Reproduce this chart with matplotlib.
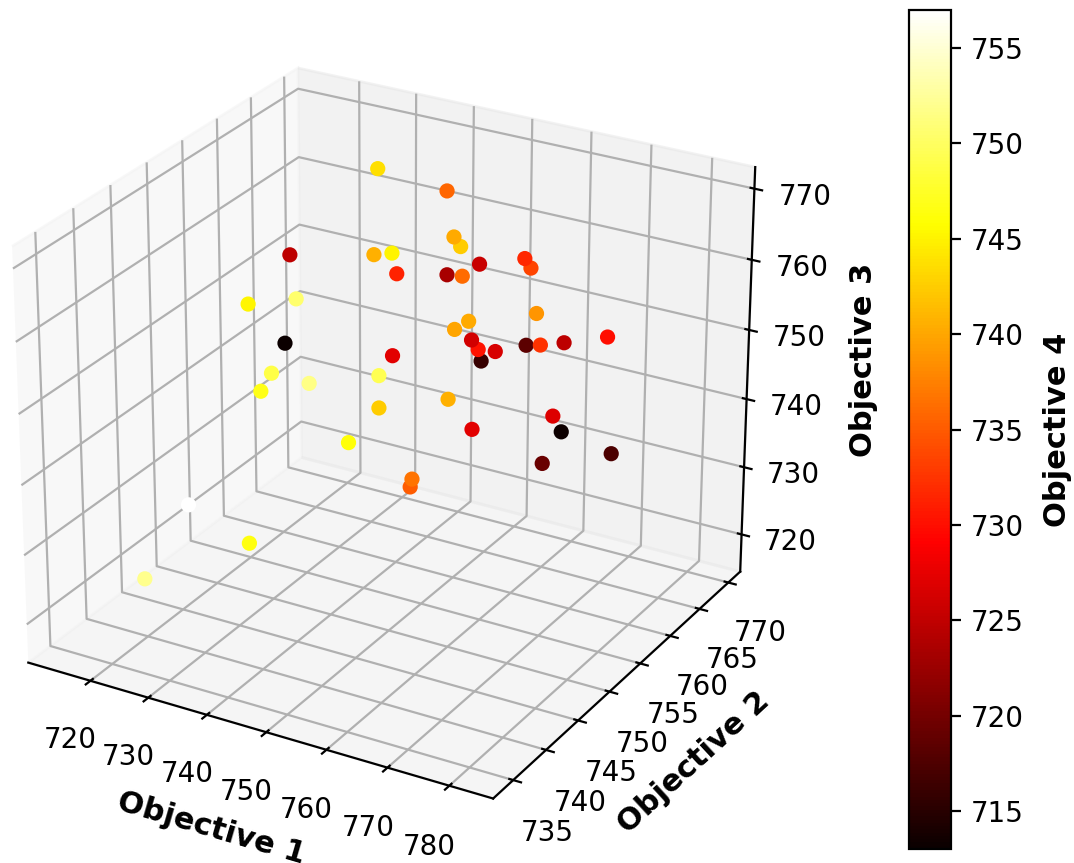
import matplotlib
matplotlib.use("Agg")
import matplotlib.pyplot as plt

# -----------------------------
# Data
# -----------------------------
objective_1 = [732.4, 750.8, 758.5, 759.6, 745.3, 748.3, 731.1, 749.1, 757.4, 759.9, 762.7, 770.0, 771.0,
               723.8, 732.1, 772.0, 761.0, 758.7, 761.5, 762.6, 765.4, 763.1, 770.4, 772.7, 776.5, 783.4,
               730.1, 748.4, 727.7, 746.1, 734.2, 725.8, 757.7, 746.1, 774.9, 761.7, 776.3, 740.9, 773.3,
               784.4, 751.7, 751.4, 712.6, 723.4, 712.0]
objective_2 = [764, 758, 752, 752, 752, 752, 752, 752, 752, 752, 752, 752, 752,
               752, 752, 752, 752, 752, 752, 752, 752, 752, 752, 752, 752, 752,
               752, 752, 752, 752, 752, 752, 752, 752, 752, 752, 752, 752, 752,
               752, 752, 752, 752, 752, 746]
objective_3 = [767.7, 771.8, 770.8, 769.7, 765.8, 766.6, 763.0, 763.9, 765.4, 765.7, 767.9, 770.1, 769.0,
               754.6, 757.0, 763.0, 759.7, 758.1, 757.2, 756.1, 756.4, 754.6, 758.3, 758.8, 759.9, 762.1,
               750.3, 752.3, 745.5, 749.0, 745.4, 742.5, 748.1, 744.4, 749.4, 744.7, 747.5, 738.3, 742.4,
               746.2, 735.4, 734.2, 722.9, 719.6, 716.3]
objective_4 = [743.6, 735.7, 740.2, 742.4, 740.5, 745.0, 724.7, 731.3, 723.4, 736.2, 725.5, 731.6, 733.6,
               745.3, 750.6, 738.9, 740.2, 739.9, 726.2, 730.3, 726.5, 716.0, 718.4, 732.3, 724.7, 730.0,
               713.0, 727.2, 748.9, 749.3, 751.5, 746.7, 740.5, 742.4, 726.8, 727.2, 713.3, 746.0, 719.3,
               717.4, 736.6, 735.0, 757.0, 746.5, 752.0]

x_ticks = [720, 730, 740, 750, 760, 770, 780]

# -----------------------------
# 3D scatter
# -----------------------------
fig = plt.figure(figsize=(5.37, 4.315), dpi=200)
ax = fig.add_axes([-0.067, 0.005, 0.84, 1.0], projection="3d")
ax.view_init(elev=26, azim=-60)
ax.set_box_aspect((4, 4, 3.43), zoom=0.99)

sc = ax.scatter(objective_1, objective_2, objective_3, c=objective_4, cmap="hot", depthshade=False)

ax.set_xlim(709.1, 787)
ax.set_ylim(732, 772.1)
ax.set_zlim(714.4, 773)
ax.set_xticks(x_ticks)

ax.set_xlabel("Objective 1", fontweight="bold", fontsize=11)
ax.set_ylabel("Objective 2", fontweight="bold", fontsize=11)
ax.zaxis.set_rotate_label(False)
ax.set_zlabel("Objective 3", fontweight="bold", fontsize=11, rotation=90, labelpad=6)

# -----------------------------
# Colorbar
# -----------------------------
cax = fig.add_axes([909 / 1074, 14 / 863, 42 / 1074, 839 / 863])
cb = fig.colorbar(sc, cax=cax)
cb.set_label("Objective 4", fontweight="bold", fontsize=11, labelpad=7)

fig.savefig("out.png", dpi=200)
